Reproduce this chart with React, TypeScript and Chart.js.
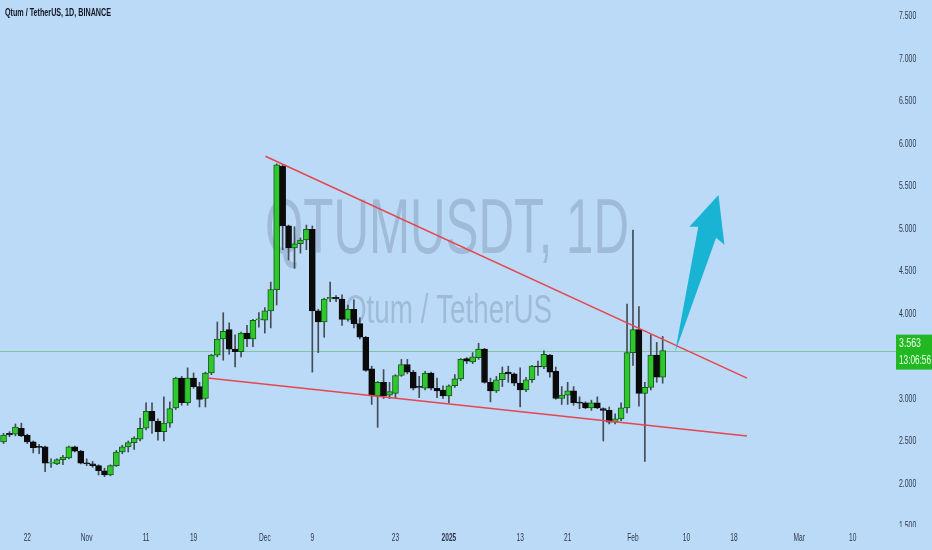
import React, { useEffect, useRef } from 'react';
import { Chart, registerables } from 'chart.js';

Chart.register(...registerables);

// Day offsets are counted from 22 Oct 2024 (= 0); first candle is 18 Oct 2024.
const FIRST_DAY = -4;

const opens = [
  2.49, 2.59, 2.58, 2.65, 2.57, 2.49, 2.43, 2.43, 2.24, 2.23,
  2.28, 2.30, 2.43, 2.38, 2.24, 2.23, 2.21, 2.15, 2.10, 2.21,
  2.37, 2.43, 2.48, 2.52, 2.65, 2.85, 2.73, 2.61, 2.71, 2.89,
  3.24, 2.95, 3.24, 3.14, 3.00, 3.30, 3.51, 3.70, 3.81, 3.58,
  3.55, 3.77, 3.70, 3.925, 3.92, 4.03, 4.28, 5.735, 5.03, 4.77,
  4.82, 4.865, 4.99, 4.03, 3.90, 4.17, 4.19, 4.17, 3.93, 4.05,
  3.88, 3.72, 3.35, 3.03, 3.19, 3.04, 3.06, 3.27, 3.40, 3.31,
  3.135, 3.12, 3.30, 3.12, 3.10, 3.03, 3.15, 3.23, 3.47, 3.43,
  3.48, 3.58, 3.19, 3.09, 3.22, 3.31, 3.29, 3.18, 3.10, 3.22,
  3.38, 3.37, 3.51, 3.32, 3.00, 3.04, 3.09, 2.95, 2.95, 2.89,
  2.95, 2.88, 2.86, 2.72, 2.76, 2.89, 3.54, 3.81, 3.06, 3.13,
  3.51, 3.25,
];
const highs = [
  2.59, 2.61, 2.70, 2.71, 2.58, 2.50, 2.46, 2.44, 2.29, 2.29,
  2.33, 2.44, 2.44, 2.39, 2.29, 2.26, 2.22, 2.18, 2.22, 2.39,
  2.45, 2.50, 2.55, 2.77, 2.95, 2.95, 2.76, 3.02, 2.96, 3.25,
  3.26, 3.36, 3.30, 3.19, 3.31, 3.52, 3.90, 4.01, 3.89, 3.75,
  3.78, 3.86, 3.93, 4.01, 4.07, 4.37, 5.76, 5.75, 5.04, 5.02,
  4.89, 5.04, 5.03, 4.05, 4.18, 4.37, 4.21, 4.22, 4.10, 4.16,
  3.95, 3.73, 3.38, 3.20, 3.34, 3.19, 3.28, 3.46, 3.46, 3.33,
  3.26, 3.32, 3.31, 3.24, 3.15, 3.16, 3.28, 3.47, 3.48, 3.54,
  3.65, 3.59, 3.24, 3.26, 3.37, 3.38, 3.30, 3.36, 3.25, 3.39,
  3.44, 3.56, 3.52, 3.37, 3.14, 3.19, 3.14, 3.02, 2.96, 2.98,
  3.02, 2.89, 2.90, 2.82, 2.95, 4.11, 4.98, 4.08, 3.19, 3.75,
  3.66, 3.73,
];
const lows = [
  2.47, 2.55, 2.56, 2.55, 2.47, 2.36, 2.35, 2.14, 2.19, 2.22,
  2.22, 2.29, 2.37, 2.23, 2.21, 2.19, 2.10, 2.08, 2.09, 2.20,
  2.35, 2.37, 2.40, 2.50, 2.63, 2.59, 2.51, 2.50, 2.66, 2.87,
  2.92, 2.92, 3.12, 2.90, 2.90, 3.28, 3.49, 3.45, 3.52, 3.37,
  3.49, 3.61, 3.61, 3.84, 3.77, 3.83, 4.10, 4.75, 4.63, 4.53,
  4.71, 4.75, 3.31, 3.54, 3.72, 4.14, 4.14, 3.86, 3.91, 3.83,
  3.70, 3.32, 2.93, 2.66, 3.00, 3.00, 3.01, 3.26, 3.29, 3.10,
  3.01, 3.10, 3.10, 3.01, 3.00, 2.95, 3.13, 3.21, 3.41, 3.41,
  3.46, 3.18, 2.96, 3.07, 3.14, 3.19, 3.15, 2.90, 3.08, 3.19,
  3.27, 3.35, 3.25, 2.99, 2.93, 2.93, 2.92, 2.88, 2.88, 2.86,
  2.88, 2.50, 2.70, 2.70, 2.74, 2.83, 3.39, 2.91, 2.26, 3.10,
  3.19, 3.18,
];
const closes = [
  2.57, 2.57, 2.665, 2.56, 2.49, 2.42, 2.425, 2.24, 2.245, 2.28,
  2.31, 2.43, 2.38, 2.24, 2.23, 2.21, 2.15, 2.10, 2.21, 2.37,
  2.43, 2.48, 2.535, 2.65, 2.85, 2.735, 2.61, 2.71, 2.88, 3.24,
  2.95, 3.24, 3.14, 2.99, 3.30, 3.51, 3.70, 3.79, 3.58, 3.55,
  3.77, 3.70, 3.92, 3.935, 4.03, 4.28, 5.75, 5.03, 4.77, 4.82,
  4.865, 4.99, 4.03, 3.90, 4.17, 4.19, 4.17, 3.93, 4.05, 3.88,
  3.72, 3.33, 3.03, 3.19, 3.03, 3.08, 3.27, 3.40, 3.31, 3.12,
  3.13, 3.30, 3.12, 3.09, 3.03, 3.15, 3.23, 3.46, 3.44, 3.49,
  3.58, 3.19, 3.09, 3.22, 3.30, 3.29, 3.18, 3.10, 3.22, 3.38,
  3.37, 3.52, 3.31, 3.00, 3.04, 3.09, 2.95, 2.945, 2.89, 2.95,
  2.89, 2.86, 2.72, 2.76, 2.89, 3.54, 3.81, 3.06, 3.13, 3.51,
  3.25, 3.563,
];

const tickDays = [0, 10, 20, 28, 40, 48, 62, 71, 83, 91, 102, 111, 119, 130, 139];
const tickLabels = ['22', 'Nov', '11', '19', 'Dec', '9', '23', '2025', '13', '21', 'Feb', '10', '18', 'Mar', '10'];
const priceTicks = [1.5, 2.0, 2.5, 3.0, 3.5, 4.0, 4.5, 5.0, 5.5, 6.0, 6.5, 7.0, 7.5];

const upperTrend = [{ x: 40.1, y: 5.85 }, { x: 121.2, y: 3.24 }];
const lowerTrend = [{ x: 30.35, y: 3.24 }, { x: 121.2, y: 2.56 }];
// arrow outline (day, price)
const arrowPoints = [
  [109.1, 3.547],
  [113.0, 5.02],
  [111.5, 5.02],
  [116.4, 5.395],
  [117.4, 4.81],
  [116.0, 4.89],
];
const lastPrice = 3.563;
const countdown = '13:06:56';
const titleText = 'Qtum / TetherUS, 1D, BINANCE';
const watermarkMain = 'QTUMUSDT, 1D';
const watermarkSub = 'Qtum / TetherUS';

const BG = '#bbdaf8';
const GREEN = '#2ec82e';
const GREEN_EDGE = '#175c17';
const BLACK = '#0b0b0b';
const WICK = '#444c56';
const RED = '#e6464e';
const CYAN = '#19b4d4';
const TEXT = '#2f3747';
const SANS = "'Liberation Sans', Arial, sans-serif";

function drawScaled(ctx: CanvasRenderingContext2D, text: string, x: number, y: number, font: string, color: string, sx: number, align: CanvasTextAlign) {
  ctx.save();
  ctx.font = font;
  ctx.fillStyle = color;
  ctx.textBaseline = 'middle';
  ctx.textAlign = align;
  ctx.translate(x, y);
  ctx.scale(sx, 1);
  ctx.fillText(text, 0, 0);
  ctx.restore();
}

function drawFit(ctx: CanvasRenderingContext2D, text: string, x: number, y: number, font: string, color: string, width: number, align: CanvasTextAlign, baseline: CanvasTextBaseline = 'middle') {
  ctx.save();
  ctx.font = font;
  const w = ctx.measureText(text).width;
  ctx.fillStyle = color;
  ctx.textBaseline = baseline;
  ctx.textAlign = align;
  ctx.translate(x, y);
  ctx.scale(width / w, 1);
  ctx.fillText(text, 0, 0);
  ctx.restore();
}

const tvPlugin = {
  id: 'tvDecor',
  beforeDraw(chart: any) {
    const { ctx, width, height } = chart;
    ctx.save();
    ctx.fillStyle = BG;
    ctx.fillRect(0, 0, width, height);
    ctx.restore();
  },
  beforeDatasetsDraw(chart: any) {
    const { ctx, chartArea, scales } = chart;
    drawFit(ctx, watermarkMain, 447, 253, `78px ${SANS}`, 'rgba(95,115,140,0.3)', 364, 'center', 'alphabetic');
    drawFit(ctx, watermarkSub, 448.5, 323, `40px ${SANS}`, 'rgba(95,115,140,0.3)', 207, 'center', 'alphabetic');
    const py = scales.y.getPixelForValue(lastPrice);
    ctx.save();
    ctx.strokeStyle = 'rgba(70,175,70,0.5)';
    ctx.lineWidth = 1;
    ctx.beginPath();
    ctx.moveTo(chartArea.left, Math.round(py) + 0.5);
    ctx.lineTo(chartArea.right + 16, Math.round(py) + 0.5);
    ctx.stroke();
    ctx.restore();
  },
  afterDatasetsDraw(chart: any) {
    const { ctx, chartArea, scales } = chart;
    const xs = scales.x;
    const ys = scales.y;
    // arrow
    ctx.save();
    ctx.fillStyle = CYAN;
    ctx.beginPath();
    arrowPoints.forEach(([d, v], i) => {
      const px = xs.getPixelForValue(d);
      const py = ys.getPixelForValue(v);
      if (i === 0) ctx.moveTo(px, py);
      else ctx.lineTo(px, py);
    });
    ctx.closePath();
    ctx.fill();
    ctx.restore();

    // time axis labels
    tickDays.forEach((d, i) => {
      const px = xs.getPixelForValue(d);
      const bold = tickLabels[i] === '2025';
      drawScaled(ctx, tickLabels[i], px, 538, `${bold ? 'bold ' : ''}11px ${SANS}`, TEXT, 0.6, 'center');
    });

    // price axis labels (clipped at pane bottom)
    ctx.save();
    ctx.beginPath();
    ctx.rect(chartArea.right, 0, 60, chartArea.bottom);
    ctx.clip();
    ys.ticks.forEach((t: any) => {
      const py = ys.getPixelForValue(t.value);
      drawScaled(ctx, t.value.toFixed(3), chartArea.right + 19, py, `11.5px ${SANS}`, TEXT, 0.6, 'left');
    });
    ctx.restore();

    // last price box
    const py = ys.getPixelForValue(lastPrice);
    ctx.save();
    ctx.fillStyle = '#22b822';
    ctx.fillRect(chartArea.right + 16, py - 16, 36, 35);
    ctx.restore();
    drawFit(ctx, lastPrice.toFixed(3), chartArea.right + 19, py - 7, `12px ${SANS}`, '#eaffea', 22, 'left');
    drawFit(ctx, countdown, chartArea.right + 19, py + 10, `12px ${SANS}`, '#eaffea', 32, 'left');

    // title
    drawFit(ctx, titleText, 5, 13.5, `bold 10px ${SANS}`, '#131722', 106, 'left');
  },
};

export default function App() {
  const ref = useRef<HTMLCanvasElement>(null);
  useEffect(() => {
    const canvas = ref.current;
    if (!canvas) return;
    const days = opens.map((_, i) => FIRST_DAY + i);
    const isUp = opens.map((o, i) => closes[i] >= o);
    const chart = new Chart(canvas, {
      type: 'bar',
      data: {
        datasets: [
          {
            type: 'line',
            data: upperTrend,
            borderColor: RED,
            borderWidth: 1.5,
            pointRadius: 0,
            order: 0,
          } as any,
          {
            type: 'line',
            data: lowerTrend,
            borderColor: RED,
            borderWidth: 1.5,
            pointRadius: 0,
            order: 0,
          } as any,
          {
            type: 'bar',
            data: days.map((d, i) => ({ x: d, y: [Math.min(opens[i], closes[i]), Math.max(opens[i], closes[i])] })),
            backgroundColor: isUp.map((u) => (u ? GREEN : BLACK)),
            borderColor: isUp.map((u) => (u ? GREEN_EDGE : BLACK)),
            borderWidth: 1,
            borderSkipped: false,
            barThickness: 6,
            minBarLength: 1,
            grouped: false,
            order: 1,
          } as any,
          {
            type: 'bar',
            data: days.map((d, i) => ({ x: d, y: [lows[i], highs[i]] })),
            backgroundColor: WICK,
            borderWidth: 0,
            barThickness: 1,
            grouped: false,
            order: 2,
          } as any,
        ],
      },
      options: {
        animation: false,
        responsive: false,
        maintainAspectRatio: false,
        events: [],
        layout: { padding: 0 },
        plugins: {
          legend: { display: false },
          tooltip: { enabled: false },
          title: { display: false },
        },
        scales: {
          x: {
            type: 'linear',
            min: -4.597,
            max: 143.6,
            offset: false,
            grid: { display: false },
            border: { display: false },
            ticks: { display: false },
            afterBuildTicks: (s: any) => {
              s.ticks = tickDays.map((v) => ({ value: v }));
            },
            afterFit: (s: any) => {
              s.height = 23;
            },
          },
          y: {
            type: 'linear',
            position: 'right',
            min: 1.488,
            max: 7.688,
            grid: { display: false },
            border: { display: false },
            ticks: { display: false },
            afterBuildTicks: (s: any) => {
              s.ticks = priceTicks.map((v) => ({ value: v }));
            },
            afterFit: (s: any) => {
              s.width = 52;
            },
          },
        },
      } as any,
      plugins: [tvPlugin],
    });
    return () => chart.destroy();
  }, []);

  return (
    <div style={{ position: 'fixed', left: 0, top: 0, width: 932, height: 550, background: BG }}>
      <canvas ref={ref} width={932} height={550} style={{ display: 'block', width: 932, height: 550 }} />
    </div>
  );
}
